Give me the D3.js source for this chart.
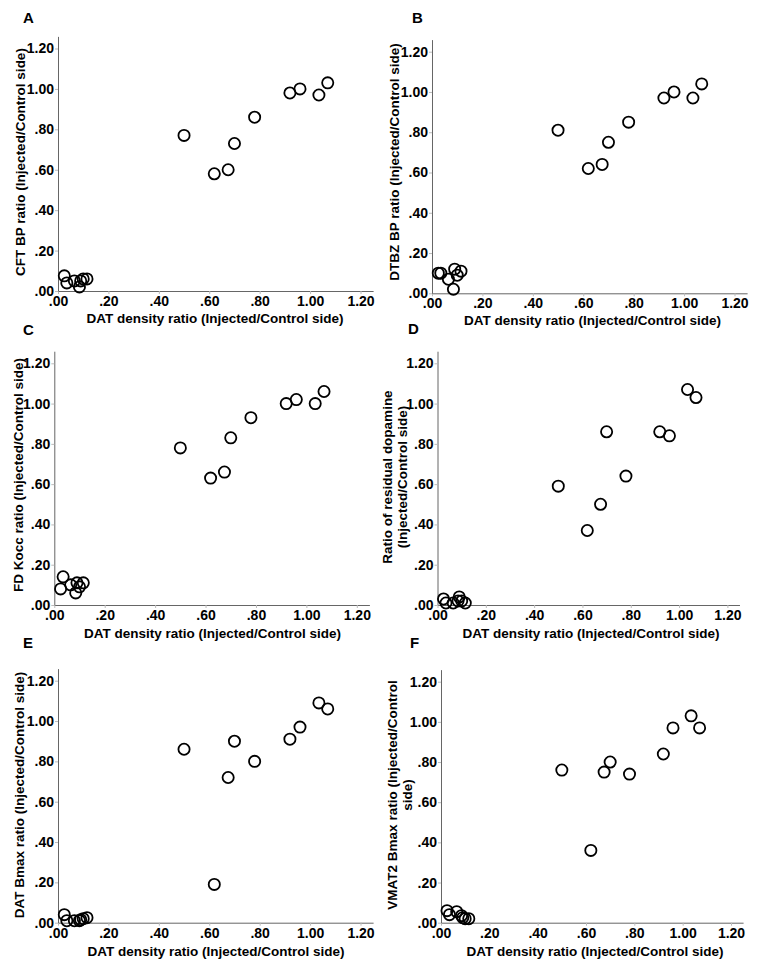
<!DOCTYPE html>
<html>
<head>
<meta charset="utf-8">
<script src="https://cdn.jsdelivr.net/npm/d3@7"></script>
<style>
  html, body { margin: 0; padding: 0; background: #fff; }
  svg { display: block; }
  text { font-family: "Liberation Sans", Arial, sans-serif; font-weight: bold; fill: #000; }
</style>
</head>
<body>
<script>
// ---- data ----
const datDensity = [0.025, 0.035, 0.065, 0.085, 0.09, 0.10, 0.115, 0.50, 0.62, 0.675, 0.70, 0.78, 0.92, 0.96, 1.035, 1.07];
const cftBP      = [0.075, 0.04, 0.05, 0.02, 0.05, 0.06, 0.06, 0.77, 0.58, 0.60, 0.73, 0.86, 0.98, 1.00, 0.97, 1.03];
const dtbzBP     = [0.10, 0.10, 0.07, 0.02, 0.12, 0.09, 0.11, 0.81, 0.62, 0.64, 0.75, 0.85, 0.97, 1.00, 0.97, 1.04];
const fdKocc     = [0.08, 0.14, 0.10, 0.06, 0.11, 0.09, 0.11, 0.78, 0.63, 0.66, 0.83, 0.93, 1.00, 1.02, 1.00, 1.06];
const dopamine   = [0.03, 0.01, 0.01, 0.02, 0.04, 0.02, 0.01, 0.59, 0.37, 0.50, 0.86, 0.64, 0.86, 0.84, 1.07, 1.03];
const datBmax    = [0.04, 0.01, 0.01, 0.01, 0.015, 0.02, 0.025, 0.86, 0.19, 0.72, 0.90, 0.80, 0.91, 0.97, 1.09, 1.06];
const vmat2Bmax  = [0.06, 0.04, 0.055, 0.035, 0.025, 0.02, 0.02, 0.76, 0.36, 0.75, 0.80, 0.74, 0.84, 0.97, 1.03, 0.97];

const tickValues = [0, 0.2, 0.4, 0.6, 0.8, 1.0, 1.2];
const panelLetters = ["A", "B", "C", "D", "E", "F"];
const xTitle = "DAT density ratio (Injected/Control side)";
const yTitles = [
  ["CFT BP ratio (Injected/Control side)"],
  ["DTBZ BP ratio (Injected/Control side)"],
  ["FD Kocc ratio (Injected/Control side)"],
  ["Ratio of residual dopamine", "(Injected/Control side)"],
  ["DAT Bmax ratio (Injected/Control side)"],
  ["VMAT2 Bmax ratio (Injected/Control", "side)"]
];
const ySeries = [cftBP, dtbzBP, fdKocc, dopamine, datBmax, vmat2Bmax];

// ---- layout (pixel geometry of each panel) ----
const layout = [
  { x0: 58,    x12: 360.5, y0: 291,   y12: 48.5,  yt: [20, 162],  xt: [215, 323],   lt: [23, 23]   },
  { x0: 432,   x12: 734.5, y0: 293.3, y12: 51.7,  yt: [394, 162], xt: [592.5, 325], lt: [412, 23]  },
  { x0: 54.3,  x12: 356.8, y0: 605,   y12: 363.3, yt: [18, 475],  xt: [212.5, 638], lt: [23, 335]  },
  { x0: 437.5, x12: 727.4, y0: 605,   y12: 363.3, yt: [387, 477], xt: [591, 638],   lt: [408, 334] },
  { x0: 58,    x12: 360.5, y0: 922.7, y12: 680.7, yt: [19, 795],  xt: [216, 956],   lt: [23, 648]  },
  { x0: 441,   x12: 731,   y0: 922.7, y12: 681.7, yt: [392, 795], xt: [595, 956],   lt: [410, 648] }
];

const W = 762, H = 970;
const svg = d3.select("body").append("svg").attr("width", W).attr("height", H);

const fmt = d => d === 0 ? ".00" : (d < 1 ? d.toFixed(2).slice(1) : d.toFixed(2));
const xMax = 1.25, yMax = 1.26;

layout.forEach((L, i) => {
  const g = svg.append("g");
  const x = d3.scaleLinear().domain([0, xMax]).range([L.x0, L.x0 + (L.x12 - L.x0) * xMax / 1.2]);
  const y = d3.scaleLinear().domain([0, yMax]).range([L.y0, L.y0 + (L.y12 - L.y0) * yMax / 1.2]);

  // x axis
  const xa = g.append("g").attr("transform", `translate(0,${L.y0})`)
    .call(d3.axisBottom(x).tickValues(tickValues).tickFormat(fmt).tickSizeOuter(0).tickSizeInner(3).tickPadding(2));
  xa.select(".domain").attr("stroke", "#666").attr("stroke-width", 1);
  xa.selectAll(".tick line").attr("stroke", "#bbb");
  xa.selectAll(".tick text").attr("font-size", 14).attr("font-family", "Liberation Sans, Arial, sans-serif").attr("font-weight", "bold").attr("fill", "#000");

  // y axis
  const ya = g.append("g").attr("transform", `translate(${L.x0},0)`)
    .call(d3.axisLeft(y).tickValues(tickValues).tickFormat(fmt).tickSizeOuter(0).tickSizeInner(3).tickPadding(1));
  ya.select(".domain").attr("stroke", "#666").attr("stroke-width", 1);
  ya.selectAll(".tick line").attr("stroke", "#bbb");
  ya.selectAll(".tick text").attr("font-size", 14).attr("font-family", "Liberation Sans, Arial, sans-serif").attr("font-weight", "bold").attr("fill", "#000");

  // points
  g.append("g").selectAll("circle")
    .data(datDensity.map((d, k) => [d, ySeries[i][k]]))
    .join("circle")
    .attr("cx", d => x(d[0]))
    .attr("cy", d => y(d[1]))
    .attr("r", 5.6)
    .attr("fill", "none")
    .attr("stroke", "#000")
    .attr("stroke-width", 1.8);

  // x title
  g.append("text")
    .attr("x", L.xt[0]).attr("y", L.xt[1])
    .attr("text-anchor", "middle")
    .attr("font-size", 13.5)
    .text(xTitle);

  // y title
  const lines = yTitles[i];
  const yt = g.append("text")
    .attr("transform", `translate(${L.yt[0]},${L.yt[1]}) rotate(-90)`)
    .attr("text-anchor", "middle")
    .attr("font-size", 13.5);
  lines.forEach((t, k) => {
    yt.append("tspan")
      .attr("x", 0)
      .attr("dy", k === 0 ? "0.35em" : "1.1em")
      .text(t);
  });

  // panel letter
  g.append("text")
    .attr("x", L.lt[0]).attr("y", L.lt[1])
    .attr("font-size", 15)
    .text(panelLetters[i]);
});
</script>
</body>
</html>
